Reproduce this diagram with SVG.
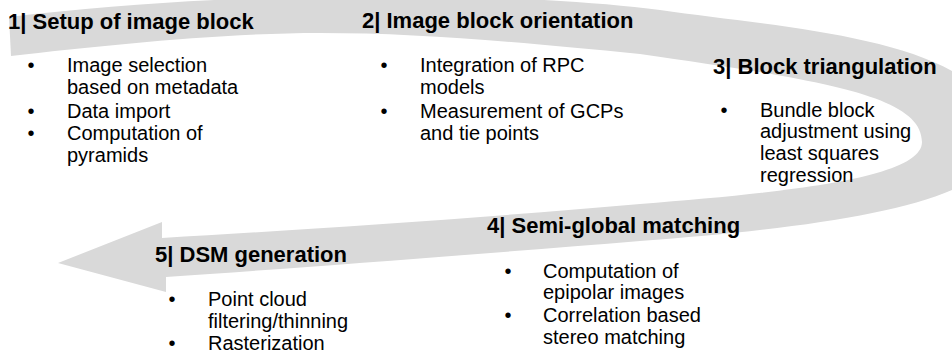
<svg xmlns="http://www.w3.org/2000/svg" width="952" height="354" viewBox="0 0 952 354">
<style>
.band{fill:#d9d9d9;stroke:none}
.h{font-family:"Liberation Sans",Arial,sans-serif;font-weight:bold;font-size:22px;fill:#000}
.t{font-family:"Liberation Sans",Arial,sans-serif;font-size:20px;fill:#000}
.b{font-family:"Liberation Sans",Arial,sans-serif;font-size:20px;fill:#000;text-anchor:middle}
</style>
<g id="connectors">
<path class="band" d="M 9,17 C 250,-12 520,-8 660,10 C 800,30 1000,40 1000,140 C 1000,200 850,225 640,241 C 480,254 300,268 166,277 L 166,292 L 58,263 L 162,222 L 162,238 C 300,230 480,218 640,204 C 790,192 922,178 922,142 C 922,95 820,80 640,54 C 520,42 420,33 320,33 C 220,33 100,46 11,56 Z"/>
</g>
<g id="step1">
<text class="h" x="8" y="29">1| Setup of image block</text>
<text class="b" x="31" y="72">•</text>
<text class="t" x="67" y="72">Image selection</text>
<text class="t" x="67" y="94">based on metadata</text>
<text class="b" x="31" y="118">•</text>
<text class="t" x="67" y="118">Data import</text>
<text class="b" x="31" y="140">•</text>
<text class="t" x="67" y="140">Computation of</text>
<text class="t" x="67" y="162">pyramids</text>
</g>
<g id="step2">
<text class="h" x="362" y="28">2| Image block orientation</text>
<text class="b" x="384" y="72">•</text>
<text class="t" x="420" y="72">Integration of RPC</text>
<text class="t" x="420" y="94">models</text>
<text class="b" x="384" y="118">•</text>
<text class="t" x="420" y="118">Measurement of GCPs</text>
<text class="t" x="420" y="140">and tie points</text>
</g>
<g id="step3">
<text class="h" x="713" y="74">3| Block triangulation</text>
<text class="b" x="724" y="117">•</text>
<text class="t" x="760" y="117">Bundle block</text>
<text class="t" x="760" y="138">adjustment using</text>
<text class="t" x="760" y="160">least squares</text>
<text class="t" x="760" y="182">regression</text>
</g>
<g id="step4">
<text class="h" x="487" y="233">4| Semi-global matching</text>
<text class="b" x="508" y="278">•</text>
<text class="t" x="543" y="278">Computation of</text>
<text class="t" x="543" y="299">epipolar images</text>
<text class="b" x="508" y="322">•</text>
<text class="t" x="543" y="322">Correlation based</text>
<text class="t" x="543" y="344">stereo matching</text>
</g>
<g id="step5">
<text class="h" x="155" y="262">5| DSM generation</text>
<text class="b" x="172" y="306">•</text>
<text class="t" x="208" y="306">Point cloud</text>
<text class="t" x="208" y="328">filtering/thinning</text>
<text class="b" x="172" y="350">•</text>
<text class="t" x="208" y="350">Rasterization</text>
</g>
</svg>
